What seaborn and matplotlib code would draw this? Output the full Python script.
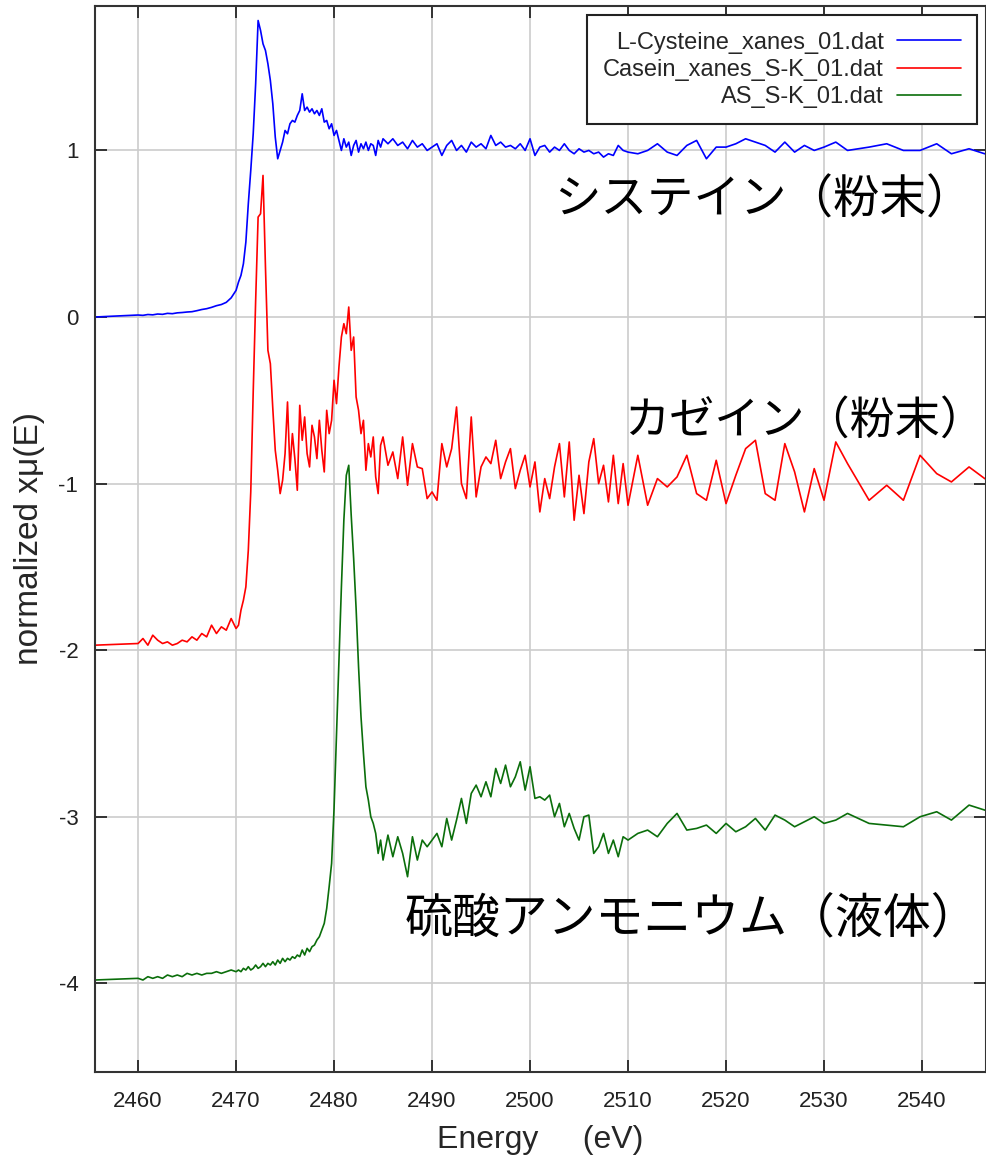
import matplotlib
matplotlib.use("Agg")
import matplotlib.pyplot as plt
import seaborn as sns

# Energy grid (eV), shared by the three scans
energy_pre = [2455.6]
energy_lo = [2460.0, 2460.5, 2461.0, 2461.5, 2462.0, 2462.5, 2463.0, 2463.5, 2464.0, 2464.5,
             2465.0, 2465.5, 2466.0, 2466.5, 2467.0, 2467.5, 2468.0, 2468.5, 2469.0, 2469.5,
             2470.0]
energy_edge = [2470.25, 2470.5, 2470.75, 2471.0, 2471.25, 2471.5, 2471.75, 2472.0, 2472.25, 2472.5, 2472.75,
               2473.0, 2473.25, 2473.5, 2473.75, 2474.0, 2474.25, 2474.5, 2474.75, 2475.0, 2475.25,
               2475.5, 2475.75, 2476.0, 2476.25, 2476.5, 2476.75, 2477.0, 2477.25, 2477.5, 2477.75,
               2478.0, 2478.25, 2478.5, 2478.75, 2479.0, 2479.25, 2479.5, 2479.75, 2480.0, 2480.25,
               2480.5, 2480.75, 2481.0, 2481.25, 2481.5, 2481.75, 2482.0, 2482.25, 2482.5, 2482.75,
               2483.0, 2483.25, 2483.5, 2483.75, 2484.0, 2484.25, 2484.5, 2484.75, 2485.0]
energy_post = [2485.5, 2486.0, 2486.5, 2487.0, 2487.5, 2488.0, 2488.5, 2489.0, 2489.5, 2490.0,
               2490.5, 2491.0, 2491.5, 2492.0, 2492.5, 2493.0, 2493.5, 2494.0, 2494.5, 2495.0,
               2495.5, 2496.0, 2496.5, 2497.0, 2497.5, 2498.0, 2498.5, 2499.0, 2499.5, 2500.0,
               2500.5, 2501.0, 2501.5, 2502.0, 2502.5, 2503.0, 2503.5, 2504.0, 2504.5, 2505.0,
               2505.5, 2506.0, 2506.5, 2507.0, 2507.5, 2508.0, 2508.5, 2509.0, 2509.5, 2510.0]
energy_far = [2511, 2512, 2513, 2514, 2515, 2516, 2517, 2518, 2519, 2520,
              2521, 2522, 2523, 2524, 2525, 2526, 2527, 2528, 2529, 2530]
energy_tail = [2531.2, 2532.4, 2534.6, 2536.4, 2538.1, 2539.8, 2541.5, 2543.0, 2544.8, 2546.4, 2548.0]

# L-Cysteine (offset 0)
cys_pre = [0.0]
cys_lo = [0.012, 0.010, 0.015, 0.013, 0.018, 0.016, 0.022, 0.020, 0.025, 0.027,
          0.030, 0.032, 0.038, 0.045, 0.050, 0.058, 0.068, 0.075, 0.088, 0.115,
          0.16]
cys_edge = [0.21, 0.25, 0.32, 0.45, 0.68, 0.88, 1.10, 1.40, 1.78, 1.72, 1.64,
            1.60, 1.52, 1.42, 1.28, 1.08, 0.95, 1.00, 1.05, 1.12, 1.10,
            1.16, 1.18, 1.17, 1.21, 1.24, 1.34, 1.24, 1.26, 1.23, 1.25,
            1.22, 1.24, 1.21, 1.25, 1.17, 1.18, 1.13, 1.16, 1.09, 1.12,
            1.06, 1.00, 1.07, 1.02, 1.05, 0.97, 1.03, 1.06, 0.99, 1.04,
            1.01, 1.05, 1.00, 1.04, 1.03, 0.97, 1.06, 1.02, 1.07]
cys_post = [1.04, 1.07, 1.03, 1.05, 1.01, 1.06, 1.02, 1.04, 1.00, 1.02,
            1.04, 0.97, 1.03, 1.06, 1.00, 1.03, 0.99, 1.05, 1.02, 1.04,
            1.01, 1.09, 1.03, 1.05, 1.02, 1.03, 1.01, 1.04, 1.00, 1.07,
            0.97, 1.02, 1.03, 0.99, 1.02, 1.00, 1.04, 1.00, 0.98, 1.01,
            0.99, 1.00, 0.98, 0.99, 0.96, 0.98, 0.97, 1.03, 1.00, 0.99]
cys_far = [0.98, 1.00, 1.04, 0.99, 0.97, 1.03, 1.06, 0.95, 1.02, 1.02,
           1.04, 1.07, 1.05, 1.03, 0.99, 1.05, 0.99, 1.03, 1.00, 1.02]
cys_tail = [1.05, 1.00, 1.02, 1.04, 1.00, 1.00, 1.04, 0.98, 1.01, 0.98, 0.99]

# Casein (offset -2)
cas_pre = [-1.97]
cas_lo = [-1.96, -1.93, -1.97, -1.91, -1.94, -1.96, -1.95, -1.97, -1.96, -1.94,
          -1.95, -1.92, -1.94, -1.90, -1.92, -1.85, -1.90, -1.86, -1.88, -1.81,
          -1.87]
cas_edge = [-1.85, -1.76, -1.70, -1.62, -1.40, -1.05, -0.45, 0.10, 0.60, 0.62, 0.85,
            0.30, -0.20, -0.28, -0.55, -0.80, -0.92, -1.06, -0.98, -0.82, -0.51,
            -0.92, -0.70, -0.85, -1.04, -0.53, -0.74, -0.60, -0.82, -0.90, -0.65,
            -0.72, -0.85, -0.62, -0.80, -0.93, -0.56, -0.70, -0.62, -0.38, -0.52,
            -0.30, -0.12, -0.04, -0.10, 0.06, -0.20, -0.12, -0.48, -0.56, -0.70,
            -0.62, -0.92, -0.76, -0.84, -0.72, -0.96, -1.06, -0.77, -0.72]
cas_post = [-0.89, -0.81, -0.97, -0.72, -1.01, -0.76, -0.90, -0.91, -1.09, -1.05,
            -1.10, -0.76, -0.90, -0.79, -0.54, -1.00, -1.09, -0.60, -1.08, -0.90,
            -0.84, -0.88, -0.74, -0.97, -0.87, -0.79, -1.03, -0.92, -0.83, -1.02,
            -0.87, -1.17, -0.97, -1.09, -0.90, -0.76, -1.08, -0.75, -1.22, -0.95,
            -1.18, -0.87, -0.73, -1.00, -0.89, -1.11, -0.83, -1.12, -0.88, -1.13]
cas_far = [-0.83, -1.13, -0.97, -1.02, -0.96, -0.83, -1.06, -1.10, -0.86, -1.12,
           -0.95, -0.79, -0.74, -1.06, -1.10, -0.76, -0.93, -1.17, -0.91, -1.10]
cas_tail = [-0.75, -0.88, -1.10, -1.01, -1.10, -0.83, -0.94, -0.99, -0.90, -0.97, -1.00]

# Ammonium sulfate solution (offset -4)
as_pre = [-3.98]
as_lo = [-3.97, -3.98, -3.96, -3.97, -3.96, -3.97, -3.95, -3.96, -3.95, -3.96,
         -3.94, -3.95, -3.94, -3.95, -3.94, -3.94, -3.93, -3.94, -3.93, -3.92,
         -3.93]
as_edge = [-3.92, -3.93, -3.91, -3.92, -3.90, -3.92, -3.91, -3.89, -3.91, -3.90, -3.88,
           -3.90, -3.88, -3.89, -3.87, -3.89, -3.86, -3.88, -3.85, -3.87, -3.85,
           -3.86, -3.84, -3.85, -3.83, -3.84, -3.80, -3.83, -3.79, -3.81, -3.78,
           -3.77, -3.74, -3.72, -3.68, -3.64, -3.55, -3.42, -3.28, -2.95, -2.50,
           -2.05, -1.62, -1.22, -0.95, -0.89, -1.19, -1.45, -1.75, -2.10, -2.40,
           -2.62, -2.82, -2.90, -3.00, -3.04, -3.10, -3.22, -3.14, -3.26]
as_post = [-3.11, -3.24, -3.12, -3.22, -3.36, -3.12, -3.26, -3.14, -3.18, -3.14,
           -3.10, -3.18, -3.01, -3.14, -3.02, -2.89, -3.04, -2.86, -2.81, -2.88,
           -2.79, -2.88, -2.71, -2.80, -2.69, -2.82, -2.76, -2.67, -2.84, -2.70,
           -2.89, -2.88, -2.90, -2.87, -3.00, -2.92, -3.06, -2.98, -3.07, -3.14,
           -3.00, -2.99, -3.22, -3.18, -3.10, -3.22, -3.14, -3.24, -3.12, -3.14]
as_far = [-3.10, -3.08, -3.12, -3.04, -2.98, -3.08, -3.07, -3.05, -3.10, -3.04,
          -3.09, -3.06, -3.01, -3.08, -2.99, -3.02, -3.06, -3.03, -3.00, -3.04]
as_tail = [-3.02, -2.98, -3.04, -3.05, -3.06, -3.00, -2.97, -3.02, -2.93, -2.96, -2.97]

energy = energy_pre + energy_lo + energy_edge + energy_post + energy_far + energy_tail
cysteine = cys_pre + cys_lo + cys_edge + cys_post + cys_far + cys_tail
casein = cas_pre + cas_lo + cas_edge + cas_post + cas_far + cas_tail
amm_sulfate = as_pre + as_lo + as_edge + as_post + as_far + as_tail

labels = ['L-Cysteine_xanes_01.dat', 'Casein_xanes_S-K_01.dat', 'AS_S-K_01.dat']
colors = ['#0000ff', '#ff0000', '#0b6e0b']
notes = ['システイン（粉末）', 'カゼイン（粉末）', '硫酸アンモニウム（液体）']
note_xy = [(2502.5, 0.70), (2509.6, -0.62), (2487.2, -3.61)]
note_size = [33.5, 32.5, 34.5]

sns.set_theme(style="ticks")
plt.rcParams['font.family'] = ['Liberation Sans', 'Noto Sans CJK JP']
plt.rcParams['axes.unicode_minus'] = False

fig = plt.figure(figsize=(9.86, 11.56), dpi=100)
ax = fig.add_axes([0.0963, 0.0727, 0.9037, 0.9221])

for y, lab, col in zip([cysteine, casein, amm_sulfate], labels, colors):
    sns.lineplot(x=energy, y=y, ax=ax, color=col, lw=1.2, label=lab,
                 estimator=None, sort=False)

for txt, (tx, ty), fs in zip(notes, note_xy, note_size):
    ax.text(tx, ty, txt, fontsize=fs, family='Noto Sans CJK JP',
            va='center', ha='left', color='black')

ax.set_xlim(2455.6, 2546.53)
ax.set_ylim(-4.532, 1.867)
ax.set_xticks([2460, 2470, 2480, 2490, 2500, 2510, 2520, 2530, 2540])
ax.set_yticks([-4, -3, -2, -1, 0, 1])
ax.grid(True, color='#cccccc', lw=1.2)
ax.set_axisbelow(True)
ax.tick_params(direction='in', length=8.5, width=1.3, top=True, right=True,
               labelsize=16, pad=12, labelcolor='#222222')
ax.tick_params(axis='x', pad=14)
for sp in ax.spines.values():
    sp.set_linewidth(1.5)
    sp.set_color('#333333')

ax.set_xlabel('Energy     (eV)', fontsize=23, labelpad=9)
ax.set_ylabel('normalized xμ(E)', fontsize=24, labelpad=10)

leg = ax.legend(loc='upper right', markerfirst=False, frameon=True, fancybox=False,
                edgecolor='#222222', framealpha=1, fontsize=17, labelspacing=0.23,
                handlelength=2.7, handletextpad=0.55, borderpad=0.68, borderaxespad=0.4)
leg.get_frame().set_linewidth(1.5)

fig.savefig('out.png', dpi=100)
